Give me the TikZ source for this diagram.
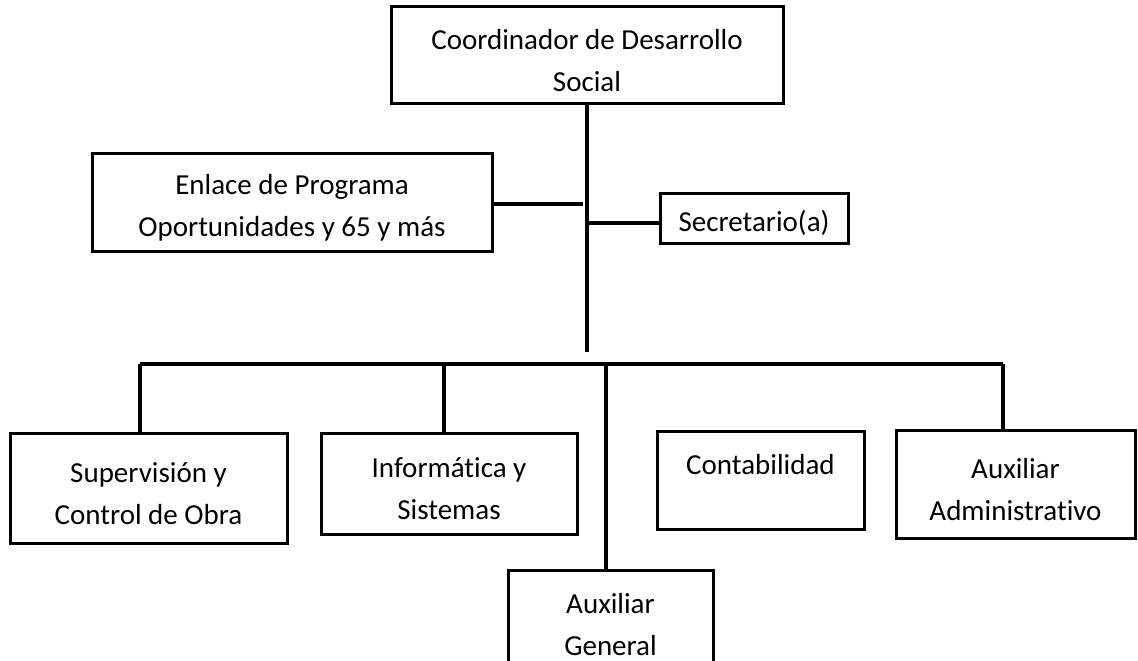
\documentclass[tikz,border=0pt]{standalone}
\usepackage{fontspec}
\setmainfont{Carlito}[Ligatures={NoCommon}]
\usetikzlibrary{calc}
\newcommand{\tstrut}{\rule{0pt}{31pt}}

\begin{document}
\begin{tikzpicture}[
  x=1pt, y=-1pt,
  font=\fontsize{29}{42}\selectfont,
  unit/.style={draw, line width=3pt, align=center, inner sep=0pt},
  link/.style={line width=3.2pt}
]
\useasboundingbox (0,0) rectangle (1138,661);
\clip (0,0) rectangle (1138,661);

%% ---------- top: head and staff ----------
\node[unit, minimum width=392, minimum height=96] (coord) at (587,55)
  {\tstrut Coordinador de Desarrollo\\ Social};
\node[unit, minimum width=400, minimum height=98] (enlace) at (292,202)
  {\tstrut Enlace de Programa\\ Oportunidades y 65 y más};
\node[unit, minimum width=188, minimum height=50] (secre) at (754,218)
  {\tstrut Secretario(a)};

%% ---------- bottom row ----------
\node[unit, minimum width=277, minimum height=110] (superv) at (148.5,488)
  {\tstrut Supervisión y\\ Control de Obra};
\node[unit, minimum width=256, minimum height=101] (inform) at (449,483.5)
  {\tstrut Informática y\\ Sistemas};
\node[unit, minimum width=207, minimum height=98] (conta) at (760.5,480)
  {\tstrut Contabilidad\\ \mbox{}};
\node[unit, minimum width=239, minimum height=108] (auxadm) at (1015.5,484)
  {\tstrut Auxiliar\\ Administrativo};
\node[unit, minimum width=205, minimum height=98] (auxgen) at (610.5,619)
  {\tstrut Auxiliar\\ General};

%% ---------- spine and bus ----------
\coordinate (spine) at (587,352);
\coordinate (enl) at (583,204);
\coordinate (sj) at (588,223);
\coordinate (b1) at (140,364);
\coordinate (b2) at (444,364);
\coordinate (b3) at (606,364);
\coordinate (b4) at (1003,364);

\draw[link] (coord.south) -- (spine);
\draw[link] (enl -| enlace.east) -- (enl);
\draw[link] (sj) -- (sj -| secre.west);
\draw[link] (b1) -- (b4);
\draw[link] (b1) -- (b1 |- superv.north);
\draw[link] (b2) -- (b2 |- inform.north);
\draw[link] (b3) -- (b3 |- auxgen.north);
\draw[link] (b4) -- (b4 |- auxadm.north);
\end{tikzpicture}
\end{document}
